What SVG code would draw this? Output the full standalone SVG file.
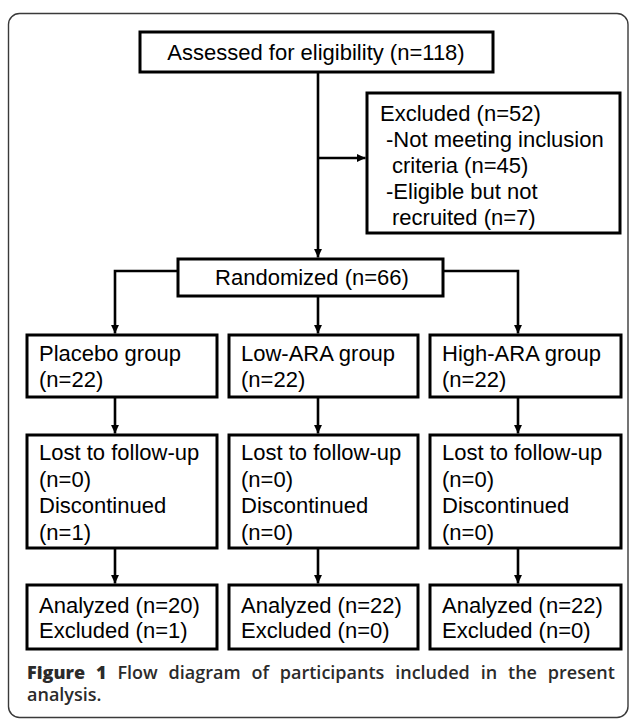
<svg xmlns="http://www.w3.org/2000/svg" width="629" height="719" viewBox="0 0 629 719">
<style>
.box{fill:#fff;stroke:#000;stroke-width:3}
.t{font-family:"Liberation Sans",Arial,sans-serif;font-size:22px;fill:#000}
.c{fill:none;stroke:#000;stroke-width:2.6}
.cap{font-family:"Open Sans","Noto Sans",sans-serif;font-size:18px;font-weight:600;fill:#2b2b2b}
</style>
<defs>
<marker id="ah" markerUnits="userSpaceOnUse" markerWidth="10" markerHeight="10" refX="9" refY="5" orient="auto">
<path d="M0,0.8 L9,5 L0,9.2 z" fill="#000"/>
</marker>
</defs>
<rect x="8.5" y="13.5" width="619.5" height="704" rx="11" fill="#fff" stroke="#3a3a3a" stroke-width="1.4"/>
<g id="connectors">
<line class="c" x1="318" y1="72" x2="318" y2="257.5" marker-end="url(#ah)"/>
<line class="c" x1="318" y1="158" x2="365.5" y2="158" marker-end="url(#ah)"/>
<polyline class="c" points="178,271 115,271 115,333.5" marker-end="url(#ah)"/>
<line class="c" x1="318" y1="296" x2="318" y2="333.5" marker-end="url(#ah)"/>
<polyline class="c" points="443,271 518,271 518,333.5" marker-end="url(#ah)"/>
<line class="c" x1="115" y1="397" x2="115" y2="433.5" marker-end="url(#ah)"/>
<line class="c" x1="318" y1="397" x2="318" y2="433.5" marker-end="url(#ah)"/>
<line class="c" x1="518" y1="397" x2="518" y2="433.5" marker-end="url(#ah)"/>
<line class="c" x1="115" y1="548" x2="115" y2="583.5" marker-end="url(#ah)"/>
<line class="c" x1="318" y1="548" x2="318" y2="583.5" marker-end="url(#ah)"/>
<line class="c" x1="518" y1="548" x2="518" y2="583.5" marker-end="url(#ah)"/>
</g>
<g id="assessed">
<rect class="box" x="140" y="32" width="353" height="40"/>
<text class="t" x="316" y="60" text-anchor="middle">Assessed for eligibility (n=118)</text>
</g>
<g id="excluded">
<rect class="box" x="367" y="93" width="253" height="140"/>
<text class="t"><tspan x="380" y="121">Excluded (n=52)</tspan><tspan x="386" y="147">-Not meeting inclusion</tspan><tspan x="392" y="173">criteria (n=45)</tspan><tspan x="386" y="199">-Eligible but not</tspan><tspan x="392" y="225">recruited (n=7)</tspan></text>
</g>
<g id="randomized">
<rect class="box" x="178" y="259" width="265" height="37"/>
<text class="t" x="312" y="285" text-anchor="middle">Randomized (n=66)</text>
</g>
<g id="placebo">
<rect class="box" x="27" y="335" width="190" height="62"/>
<text class="t"><tspan x="39" y="361">Placebo group</tspan><tspan x="39" y="387">(n=22)</tspan></text>
</g>
<g id="lowara">
<rect class="box" x="229" y="335" width="189" height="62"/>
<text class="t"><tspan x="241" y="361">Low-ARA group</tspan><tspan x="241" y="387">(n=22)</tspan></text>
</g>
<g id="highara">
<rect class="box" x="430" y="335" width="191" height="62"/>
<text class="t"><tspan x="442" y="361">High-ARA group</tspan><tspan x="442" y="387">(n=22)</tspan></text>
</g>
<g id="lost-placebo">
<rect class="box" x="27" y="435" width="190" height="113"/>
<text class="t"><tspan x="39" y="460">Lost to follow-up</tspan><tspan x="39" y="486.5">(n=0)</tspan><tspan x="39" y="513">Discontinued</tspan><tspan x="39" y="539.5">(n=1)</tspan></text>
</g>
<g id="lost-low">
<rect class="box" x="229" y="435" width="189" height="113"/>
<text class="t"><tspan x="241" y="460">Lost to follow-up</tspan><tspan x="241" y="486.5">(n=0)</tspan><tspan x="241" y="513">Discontinued</tspan><tspan x="241" y="539.5">(n=0)</tspan></text>
</g>
<g id="lost-high">
<rect class="box" x="430" y="435" width="191" height="113"/>
<text class="t"><tspan x="442" y="460">Lost to follow-up</tspan><tspan x="442" y="486.5">(n=0)</tspan><tspan x="442" y="513">Discontinued</tspan><tspan x="442" y="539.5">(n=0)</tspan></text>
</g>
<g id="analyzed-placebo">
<rect class="box" x="27" y="585" width="190" height="64"/>
<text class="t"><tspan x="39" y="613">Analyzed (n=20)</tspan><tspan x="39" y="638">Excluded (n=1)</tspan></text>
</g>
<g id="analyzed-low">
<rect class="box" x="229" y="585" width="189" height="64"/>
<text class="t"><tspan x="241" y="613">Analyzed (n=22)</tspan><tspan x="241" y="638">Excluded (n=0)</tspan></text>
</g>
<g id="analyzed-high">
<rect class="box" x="430" y="585" width="191" height="64"/>
<text class="t"><tspan x="442" y="613">Analyzed (n=22)</tspan><tspan x="442" y="638">Excluded (n=0)</tspan></text>
</g>
<g id="caption">
<text class="cap" x="27" y="679" word-spacing="6.2"><tspan font-weight="800">Figure 1</tspan> Flow diagram of participants included in the present</text>
<text class="cap" x="27" y="701">analysis.</text>
</g>
</svg>
